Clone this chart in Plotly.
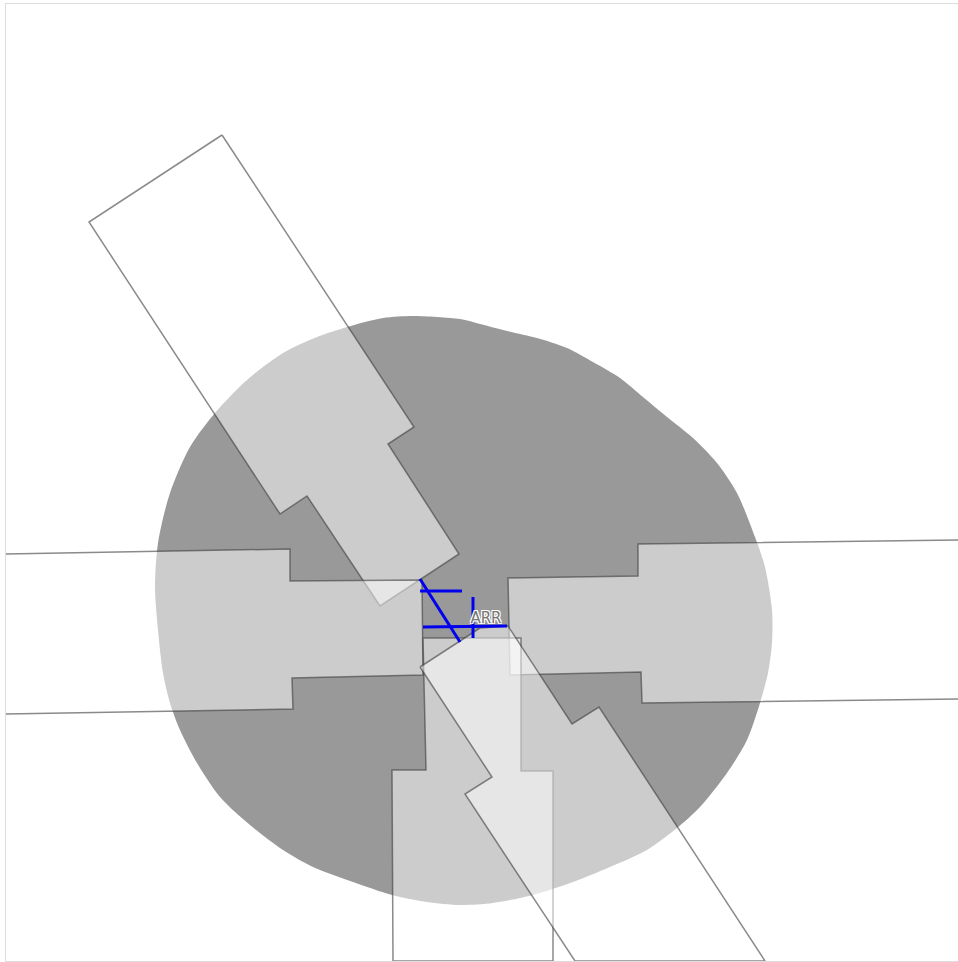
import plotly.graph_objects as go

blob_x = [413,460,480,503,537,567,593,620,643,667,693,717,737,755,765,772,772,768,760,747,727,700,677,647,610,573,533,493,460,427,392,353,313,283,250,220,197,180,170,163,158,155,158,170,190,215,247,283,317,347,383,413]
blob_y = [316,319,324,330,338,348,362,378,397,417,438,463,493,537,567,610,643,673,703,740,773,807,828,850,867,882,895,903,905,902,895,882,867,850,825,797,763,730,703,673,630,587,543,493,447,413,380,353,337,327,318,316]

nw_x = [222,89,280,307,380,459,388,414,222]
nw_y = [135,222,514,496,606,554,444,427,135]
w_x = [6,290,290,422,423,292,293,6]
w_y = [554,549,581,580,675,678,709,714]
e_x = [958,638,638,508,510,641,642,958]
e_y = [540,544,576,578,675,672,703,699]
s_x = [423,521,521,553,553,393,392,426,423]
s_y = [638,638,771,771,961,961,770,770,638]
se_x = [420,458,480,508,572,599,765,575,465,492,420]
se_y = [667,642,628,626,724,707,961,961,794,777,667]

blue_segments = [
    ([420,460],[579,642]),
    ([420,462],[591,591]),
    ([423,507],[627,626]),
    ([473,473],[597,638]),
]
target_x = [485.5]
target_y = [481.7]
label_x = [486]
label_y = [619]
label_text = ["ARR"]

fig = go.Figure()
fig.add_trace(go.Scatter(x=blob_x, y=blob_y, mode="lines", fill="toself",
                         fillcolor="#999999",
                         line=dict(color="#999999", width=0, shape="spline", smoothing=0.8),
                         hoverinfo="skip"))
for px, py in [(nw_x,nw_y),(w_x,w_y),(e_x,e_y),(s_x,s_y),(se_x,se_y)]:
    fig.add_trace(go.Scatter(x=px, y=py, mode="lines", fill="toself",
                             fillcolor="rgba(255,255,255,0.5)",
                             line=dict(color="rgba(60,60,60,0.6)", width=1.5),
                             hoverinfo="skip"))
for bx, by in blue_segments:
    fig.add_trace(go.Scatter(x=bx, y=by, mode="lines",
                             line=dict(color="#0000ee", width=3), hoverinfo="skip"))
fig.add_trace(go.Scatter(x=target_x, y=target_y, mode="markers",
                         marker=dict(symbol="circle-cross-open", size=38, color="rgba(0,0,0,0)",
                                     line=dict(color="#ee1111", width=1.3)),
                         hoverinfo="skip"))
fig.add_trace(go.Scatter(x=label_x, y=label_y, mode="text", text=label_text,
                         textfont=dict(family="DejaVu Sans", size=15, color="#777777",
                                       shadow="1px 1px 0 #fff, -1px -1px 0 #fff, 1px -1px 0 #fff, -1px 1px 0 #fff"),
                         hoverinfo="skip"))

axis = dict(visible=True, showgrid=False, zeroline=False, showticklabels=False, ticks="",
            showline=True, mirror=True, linecolor="#dddddd", linewidth=1)
fig.update_layout(width=958, height=962, margin=dict(l=6, r=0, t=4, b=1),
                  plot_bgcolor="white", paper_bgcolor="white", showlegend=False,
                  xaxis=dict(range=[6,958], **axis),
                  yaxis=dict(range=[961,4], **axis))
fig.write_html("out.html", config=dict(displayModeBar=False),
               post_script="document.body.style.margin='0';document.body.style.overflow='hidden';")
